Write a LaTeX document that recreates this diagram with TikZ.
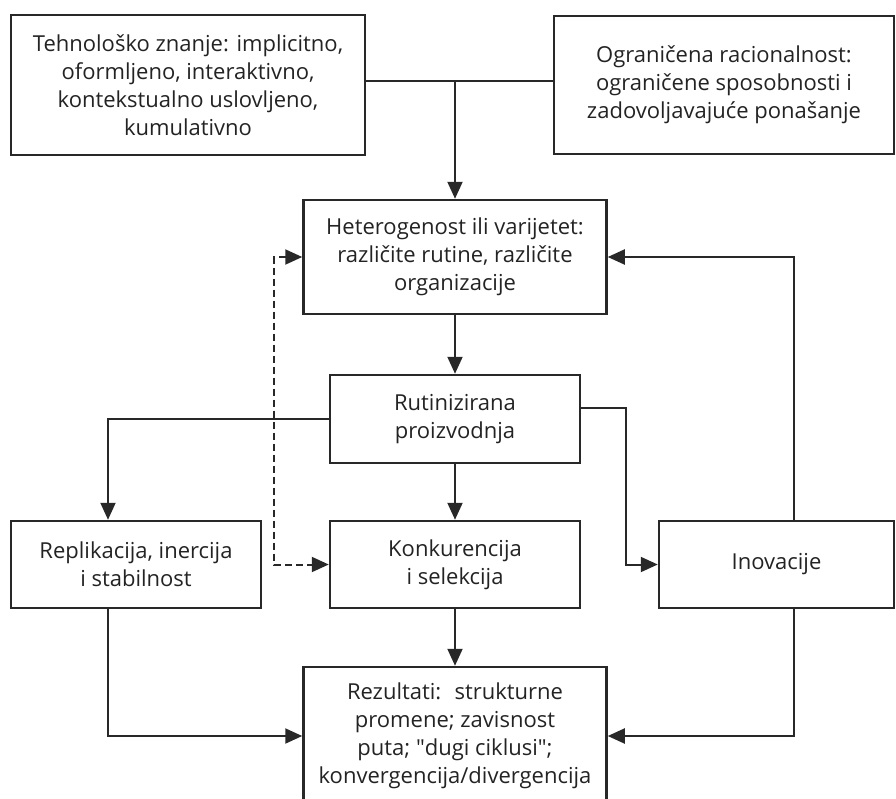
\documentclass[tikz,border=0pt]{standalone}
\usepackage{fontspec}
\setmainfont{Open Sans}
\usepackage{tikz}
\usetikzlibrary{arrows.meta}
\definecolor{linec}{RGB}{40, 40, 40}
\definecolor{textc}{RGB}{35, 35, 35}

\begin{document}
\begin{tikzpicture}[x=1pt, y=-1pt,
		>={Triangle[length=17pt, width=15pt]},
		box/.style={draw=linec, line width=2.5pt, text=textc, align=center,
			font=\fontsize{22}{28}\selectfont, inner sep=0pt},
		link/.style={draw=linec, line width=2pt},
		arr/.style={link, ->},
		dasharr/.style={link, <->, dash pattern=on 7pt off 4pt}]
		\def\mw{250}
		\def\mh{87}

		% --- Page frame ---
		\useasboundingbox (0,0) rectangle (896,798);
		\clip (0,0) rectangle (896,798);

		% --- Top boxes ---
		\node[box, minimum width=354, minimum height=140] (tech) at (188,85)
			{Tehnološko znanje: implicitno,\\oformljeno, interaktivno,\\kontekstualno uslovljeno,\\kumulativno};
		\node[box, minimum width=340, minimum height=138] (ratio) at (724,85)
			{Ograničena racionalnost:\\ograničene sposobnosti i\\zadovoljavajuće ponašanje};

		% --- Central column ---
		\node[box, minimum width=303, minimum height=114] (hetero) at (455,257)
			{Heterogenost ili varijetet:\\različite rutine, različite\\organizacije};
		\node[box, minimum width=\mw, minimum height=88] (rutina) at (455,419)
			{Rutinizirana\\proizvodnja};
		\node[box, minimum width=\mw, minimum height=\mh] (konk) at (455,564.5)
			{Konkurencija\\i selekcija};
		\node[box, minimum width=303, minimum height=138] (rez) at (455,736)
			{Rezultati:~ strukturne\\promene; zavisnost\\puta; \textquotedbl dugi ciklusi\textquotedbl;\\konvergencija/divergencija};

		% --- Side boxes ---
		\node[box, minimum width=\mw, minimum height=\mh] (repl) at (136,564.5)
			{Replikacija, inercija\\i stabilnost};
		\node[box, minimum width=235, minimum height=\mh] (inov) at (776.5,564.5)
			{Inovacije};

		% --- Inputs from the top ---
		\draw[link] ([yshift=4]tech.east) -- ([yshift=4]ratio.west);
		\draw[arr] ([yshift=4]tech.east -| hetero.north) -- (hetero.north);

		% --- Central arrows ---
		\draw[arr] (hetero.south) -- (rutina.north);
		\draw[arr] (rutina.south) -- (konk.north);
		\draw[arr] (konk.south) -- (rez.north);

		% --- Branches of production ---
		\draw[arr] (rutina.west) -| ([xshift=-28]repl.north);
		\draw[arr] ([yshift=11]rutina.east) -- ++(45,0) |- (inov.west);

		% --- Into the results ---
		\draw[arr] ([xshift=-28]repl.south) |- (rez.west);
		\draw[arr] ([xshift=17.5]inov.south) |- (rez.east);

		% --- Feedback ---
		\draw[arr] ([xshift=17.5]inov.north) |- (hetero.east);
		\draw[dasharr] (hetero.west) -- ++(-28,0) |- (konk.west);
	\end{tikzpicture}
\end{document}
